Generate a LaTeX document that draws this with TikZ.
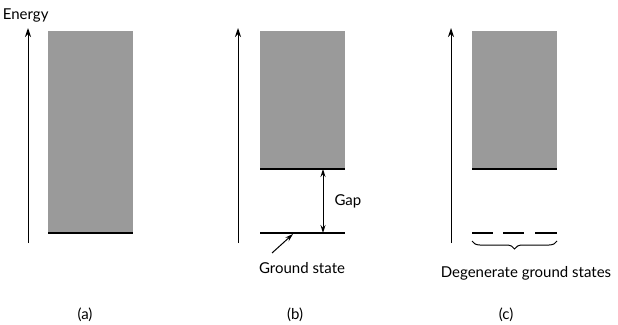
\documentclass[tikz,border=0pt]{standalone}
\usepackage{fontspec}
\setmainfont{Lato}
\usepackage{tikz}
\usetikzlibrary{arrows.meta, positioning, decorations.pathreplacing}
\definecolor{bandgray}{RGB}{154,154,154}

\begin{document}
\begin{tikzpicture}[x=1pt, y=-1pt, font=\fontsize{15}{18}\selectfont]
        % Styles
        \tikzstyle{band} = [fill=bandgray, draw=none]
        \tikzstyle{level} = [line width=1.2pt]
        \tikzstyle{axis} = [-{Stealth[length=9pt, width=6pt]}, line width=1pt]
        \tikzstyle{pointer} = [-{Stealth[length=8pt, width=5pt]}, line width=1pt]
        \tikzstyle{gaparrow} = [{Stealth[length=8pt, width=5pt]}-{Stealth[length=8pt, width=5pt]}, line width=1pt]

        \useasboundingbox (0,0) rectangle (618,324);

        % Axes
        \node [anchor=east] (energy) at (52,15) {Energy};
        \coordinate (axAbot) at (28,243);  \coordinate (axAtop) at (28,28);
        \coordinate (axBbot) at (238,243); \coordinate (axBtop) at (238,28);
        \coordinate (axCbot) at (451,243); \coordinate (axCtop) at (451,28);
        \draw [axis] (axAbot) -- (axAtop);
        \draw [axis] (axBbot) -- (axBtop);
        \draw [axis] (axCbot) -- (axCtop);

        % (a) gapless
        \fill [band] (48,31) rectangle (133,233);
        \draw [level] (48,233) -- (133,233);

        % (b) gapped
        \fill [band] (260,31) rectangle (345,169);
        \coordinate (bTop) at (323,169);
        \coordinate (bGround) at (323,233);
        \coordinate (bHit) at (293,234);
        \draw [level] (260,169) -- (345,169);
        \draw [level] (260,233) -- (345,233);
        \draw [gaparrow] (bTop) -- (bGround);
        \node [anchor=west] (gap) at (331,201) {Gap};
        \node (ground) at (302,268) {Ground state};
        \draw [pointer] (272,253) -- (bHit);

        % (c) degenerate
        \fill [band] (472,31) rectangle (557,169);
        \draw [level] (472,169) -- (557,169);
        \draw [level] (472,233) -- (493,233);
        \draw [level] (503,233) -- (524,233);
        \draw [level] (535,233) -- (557,233);
        \coordinate (braceL) at (472,241);
        \coordinate (braceR) at (557,241);
        \draw [line width=1pt, decorate,
               decoration={brace, mirror, amplitude=8pt}] (braceL) -- (braceR);
        \node (degen) at (526,273) {Degenerate ground states};

        % Labels
        \node (la) at (85,315) {(a)};
        \node (lb) at (295,315) {(b)};
        \node (lc) at (506,315) {(c)};
\end{tikzpicture}
\end{document}
